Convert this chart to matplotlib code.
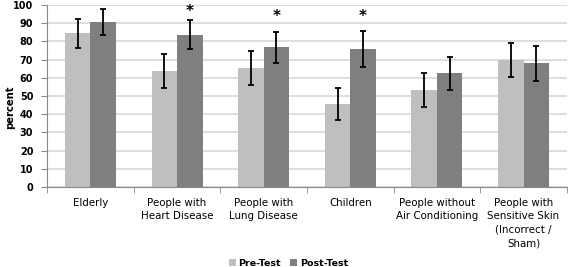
import numpy as np
import matplotlib.pyplot as plt

plt.rcParams['font.family'] = ['DejaVu Sans']

categories = ["Elderly", "People with\nHeart Disease", "People with\nLung Disease",
              "Children", "People without\nAir Conditioning",
              "People with\nSensitive Skin\n(Incorrect /\nSham)"]
pre_test = [84.5, 63.7, 65.6, 45.6, 53.3, 69.8]
pre_err = [8.0, 9.3, 9.3, 9.0, 9.5, 9.2]
post_test = [90.7, 83.8, 76.8, 76.0, 62.4, 68.0]
post_err = [7.0, 8.1, 8.6, 9.8, 9.3, 9.5]
star_y = [None, 96.5, 93.5, 93.5, None, None]

fig = plt.figure(figsize=(5.68, 2.67), dpi=100)
ax = fig.add_axes([0.083, 0.30, 0.915, 0.681])

x = np.arange(len(categories))
w = 0.295
ekw = dict(ecolor='black', elinewidth=1.3, capsize=2.2, capthick=1.3)
ax.bar(x - w / 2, pre_test, w, yerr=pre_err, color='#bfbfbf', label='Pre-Test',
       error_kw=ekw, zorder=2)
ax.bar(x + w / 2, post_test, w, yerr=post_err, color='#7f7f7f', label='Post-Test',
       error_kw=ekw, zorder=2)

for i, sy in enumerate(star_y):
    if sy is not None:
        ax.text(x[i] + w / 2, sy, '*', ha='center', va='center', fontsize=11,
                fontweight='bold')

ax.set_xlim(-0.5, len(categories) - 0.5)
ax.set_ylim(0, 100)
ax.set_yticks(range(0, 101, 10))
ax.yaxis.grid(True, color='#d4d4d4', linewidth=1.1, zorder=0)
ax.set_axisbelow(True)
for lab in ax.get_yticklabels():
    lab.set_fontweight('bold')
ax.tick_params(axis='y', labelsize=7, length=4, color='#888888', pad=6)

ax.set_xticks(x)
ax.set_xticklabels(categories, fontsize=7.4, linespacing=1.42)
ax.set_xticks(np.arange(-0.5, len(categories)), minor=True)
ax.tick_params(axis='x', which='major', length=0, pad=8)
ax.tick_params(axis='x', which='minor', length=4, color='#888888')

ax.set_ylabel('percent', fontsize=7.2, fontweight='bold')
ax.yaxis.set_label_coords(-0.062, 0.44)

for s in ['top', 'right']:
    ax.spines[s].set_visible(False)
for s in ['left', 'bottom']:
    ax.spines[s].set_color('#888888')

fig.legend(loc='lower center', bbox_to_anchor=(0.508, -0.035), ncol=2, frameon=False,
           prop={'size': 6.8, 'weight': 'bold'}, handlelength=0.7, handleheight=0.7,
           columnspacing=1.0, handletextpad=0.3)

fig.savefig('out.png', dpi=100)
